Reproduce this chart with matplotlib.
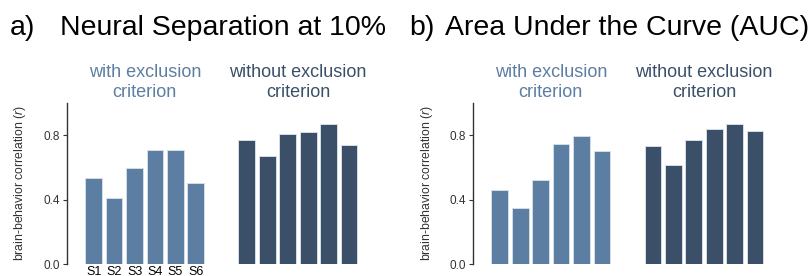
import numpy as np
import matplotlib.pyplot as plt

plt.rcParams['font.family'] = ['Liberation Sans', 'DejaVu Sans']
plt.rcParams['mathtext.fontset'] = 'custom'
plt.rcParams['mathtext.it'] = 'Liberation Sans:italic'

subjects = ['S1', 'S2', 'S3', 'S4', 'S5', 'S6']

# a) neural separation at 10%
sep_with = [0.535, 0.411, 0.595, 0.705, 0.705, 0.502]
sep_without = [0.769, 0.668, 0.810, 0.821, 0.868, 0.740]
# b) area under the curve
auc_with = [0.461, 0.351, 0.521, 0.744, 0.794, 0.701]
auc_without = [0.736, 0.616, 0.773, 0.841, 0.868, 0.827]

light = '#5d7ea3'
dark = '#3b5068'

fig = plt.figure(figsize=(8.09, 2.76), dpi=100)
ax_a = fig.add_axes([0.083, 0.043, 0.361, 0.584])
ax_b = fig.add_axes([0.585, 0.043, 0.361, 0.584])

x_with = np.arange(6)
x_without = np.arange(6) + 7.5

for ax, v_with, v_without in [(ax_a, sep_with, sep_without), (ax_b, auc_with, auc_without)]:
    ax.bar(x_with, v_with, width=0.82, color=light, edgecolor='#d5dde6', linewidth=0.7)
    ax.bar(x_without, v_without, width=0.82, color=dark, edgecolor='#d5dde6', linewidth=0.7)
    ax.set_xlim(-1.3, 13)
    ax.set_ylim(0, 1.0)
    ax.set_yticks([0.0, 0.4, 0.8])
    ax.set_yticklabels(['0.0', '0.4', '0.8'])
    for s in ['top', 'right', 'bottom']:
        ax.spines[s].set_visible(False)
    ax.spines['left'].set_color('#333333')
    ax.spines['left'].set_linewidth(1.0)
    ax.tick_params(axis='y', length=3, labelsize=8.5, labelcolor='#333333', color='#333333', pad=2)
    ax.tick_params(axis='x', length=0, labelsize=9, pad=1)
    ax.set_ylabel('brain-behavior correlation ($\\it{r}$)', fontsize=8.8, color='#333333', labelpad=11)
    ax.text(x_with.mean(), 1.127, 'with exclusion\ncriterion', transform=ax.get_xaxis_transform(),
            ha='center', va='center', fontsize=13, color=light, linespacing=1.2, clip_on=False)
    ax.text(x_without.mean(), 1.127, 'without exclusion\ncriterion', transform=ax.get_xaxis_transform(),
            ha='center', va='center', fontsize=13, color=dark, linespacing=1.2, clip_on=False)

ax_a.set_xticks(x_with)
ax_a.set_xticklabels(subjects)
ax_b.set_xticks([])

fig.text(0.012, 0.90, 'a)', fontsize=20.5, va='center')
fig.text(0.074, 0.90, 'Neural Separation at 10%', fontsize=20.5, va='center')
fig.text(0.506, 0.90, 'b)', fontsize=20.5, va='center')
fig.text(0.550, 0.90, 'Area Under the Curve (AUC)', fontsize=20.5, va='center')

plt.savefig('out.png', dpi=100)
